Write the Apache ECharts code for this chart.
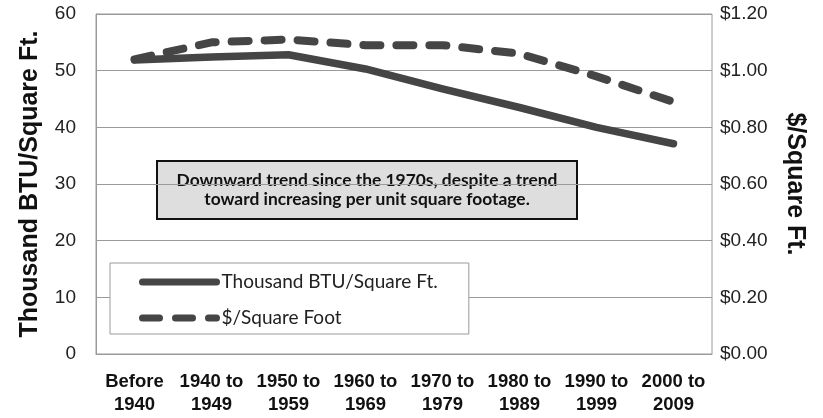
<!DOCTYPE html>
<html>
<head>
<meta charset="utf-8">
<script src="https://cdn.jsdelivr.net/npm/echarts@6/dist/echarts.min.js"></script>
<style>
  html, body { margin: 0; padding: 0; background: #fff; }
  #chart { width: 823px; height: 418px; }
</style>
</head>
<body>
<div id="chart"></div>
<script>
const categories = ['Before\n1940', '1940 to\n1949', '1950 to\n1959', '1960 to\n1969',
  '1970 to\n1979', '1980 to\n1989', '1990 to\n1999', '2000 to\n2009']
const btuPerSqFt = [51.9, 52.4, 52.8, 50.3, 46.8, 43.5, 40.0, 37.1]
const dollarsPerSqFt = [1.04, 1.10, 1.11, 1.09, 1.09, 1.06, 0.98, 0.89]
const noteText = 'Downward trend since the 1970s, despite a trend\ntoward increasing per unit square footage.'

const chart = echarts.init(document.getElementById('chart'))
const lineColor = '#454545'
const gridColor = '#9a9a9a'
const axisFont = 'Liberation Sans, Arial, sans-serif'

chart.setOption({
  animation: false,
  textStyle: { fontFamily: axisFont },
  grid: {
    left: 96, right: 111, top: 14, bottom: 64,
    show: true, borderColor: gridColor, borderWidth: 1
  },
  legend: {
    orient: 'vertical',
    left: 110, top: 263,
    padding: [8, 31, 5, 29],
    itemGap: 14,
    itemWidth: 74,
    itemHeight: 10,
    backgroundColor: '#fff',
    borderColor: gridColor,
    borderWidth: 1,
    itemStyle: { opacity: 0 },
    lineStyle: { width: 7, cap: 'round' },
    textStyle: { fontFamily: 'Lato', fontSize: 19, lineHeight: 22, color: '#222' },
    data: ['Thousand BTU/Square Ft.', '$/Square Foot']
  },
  xAxis: {
    type: 'category',
    data: categories,
    boundaryGap: true,
    axisLine: { lineStyle: { color: gridColor } },
    axisTick: { show: false },
    axisLabel: {
      interval: 0, margin: 16, lineHeight: 23,
      fontFamily: axisFont, fontWeight: 'bold', fontSize: 18.5, color: '#111'
    }
  },
  yAxis: [
    {
      type: 'value', min: 0, max: 60, interval: 10,
      name: 'Thousand BTU/Square Ft.',
      nameLocation: 'middle', nameGap: 53, nameRotate: 90,
      nameTextStyle: { fontFamily: axisFont, fontWeight: 'bold', fontSize: 25, color: '#111' },
      axisLine: { show: true, lineStyle: { color: gridColor } },
      axisTick: { show: false },
      axisLabel: { fontFamily: axisFont, fontSize: 19, color: '#222', margin: 20 },
      splitLine: { lineStyle: { color: gridColor, width: 1 } }
    },
    {
      type: 'value', min: 0, max: 1.2, interval: 0.2,
      name: '$/Square Ft.',
      nameLocation: 'middle', nameGap: 70, nameRotate: -90,
      nameTextStyle: { fontFamily: axisFont, fontWeight: 'bold', fontSize: 25, color: '#111' },
      axisLine: { show: false },
      axisTick: { show: false },
      axisLabel: {
        fontFamily: axisFont, fontSize: 19, color: '#222', margin: 8,
        formatter: v => '$' + v.toFixed(2)
      },
      splitLine: { show: false }
    }
  ],
  graphic: [
    {
      type: 'group',
      left: 156, top: 160,
      children: [
        {
          type: 'rect',
          shape: { x: 0, y: 0, width: 420, height: 58 },
          style: { fill: '#dedede', stroke: '#111', lineWidth: 2 }
        },
        {
          type: 'text',
          x: 210, y: 29,
          style: {
            text: noteText,
            align: 'center', verticalAlign: 'middle',
            fontFamily: 'Lato', fontWeight: 'bold', fontSize: 17.4, lineHeight: 19,
            fill: '#111'
          }
        }
      ]
    }
  ],
  series: [
    {
      name: 'Thousand BTU/Square Ft.',
      type: 'line',
      yAxisIndex: 0,
      data: btuPerSqFt,
      symbol: 'none',
      color: lineColor,
      lineStyle: { color: lineColor, width: 7.5, cap: 'round', join: 'round' }
    },
    {
      name: '$/Square Foot',
      type: 'line',
      yAxisIndex: 1,
      data: dollarsPerSqFt,
      symbol: 'none',
      color: lineColor,
      lineStyle: { color: lineColor, width: 8, type: [17, 16], cap: 'round', join: 'round' }
    }
  ]
})
</script>
</body>
</html>
